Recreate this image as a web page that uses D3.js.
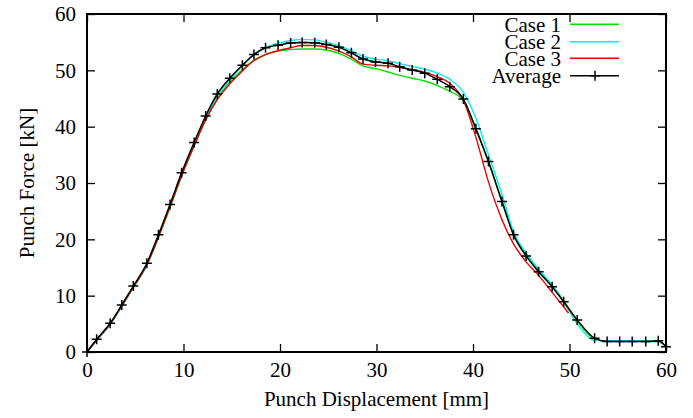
<!DOCTYPE html>
<html>
<head>
<meta charset="utf-8">
<script src="https://cdn.jsdelivr.net/npm/d3@7"></script>
<style>
html,body{margin:0;padding:0;background:#fff;}
svg{display:block;}
</style>
</head>
<body>
<svg id="chart" width="693" height="418"></svg>
<script>
// ---------- data ----------
const xTicks = [0, 10, 20, 30, 40, 50, 60];
const yTicks = [0, 10, 20, 30, 40, 50, 60];
const seriesNames = ["Case 1", "Case 2", "Case 3", "Average"];

const displacement = [0,1.0,2.4,3.6,4.8,6.2,7.4,8.6,9.8,11.1,12.3,13.5,14.8,16.1,17.3,18.5,19.8,21.1,22.3,23.6,24.8,26.1,27.4,28.6,29.9,31.2,32.4,33.7,35.0,36.3,37.6,39.0,40.3,41.6,43.0,44.2,45.5,46.8,48.2,49.4,50.8,52.6,53.9,55.2,56.5,57.9,59.2,60];

const case1 = [0,2.1,4.9,8.1,11.4,15.4,20.3,25.6,31.2,36.6,41.3,45.0,47.9,50.1,51.8,52.8,53.4,53.7,53.8,53.8,53.6,53.0,52.0,50.8,50.3,49.7,49.1,48.6,48.1,47.3,46.3,44.6,39.5,33.8,26.8,21.0,17.3,14.5,11.8,9.1,5.5,2.3,1.9,1.9,1.9,1.9,1.8,1.0];

const case2 = [0,2.0,4.9,8.1,11.5,15.5,20.5,25.9,31.4,36.9,41.6,45.4,48.3,50.8,52.8,54.0,54.8,55.3,55.5,55.4,55.0,54.4,53.5,52.5,52.0,51.7,51.2,50.7,50.2,49.5,48.4,46.1,41.5,35.0,28.0,21.3,17.6,14.7,11.9,8.9,5.0,2.1,2.0,2.0,2.0,2.0,1.9,1.0];

const case3Displacement = [0,1.0,2.4,3.6,4.8,6.2,7.4,8.6,9.8,11.1,12.3,13.5,14.8,16.1,17.3,18.5,19.8,21.1,22.3,23.6,24.8,26.1,27.4,28.6,29.9,31.2,32.4,33.7,35.0,36.3,37.6,39.0,40.3,41.6,43.0,44.2,45.5,46.8,48.2,49.4,49.9];
const case3 = [0,2.1,5.0,8.2,11.5,15.5,20.4,25.8,31.3,36.6,41.2,44.8,47.6,49.9,51.7,52.8,53.5,54.0,54.4,54.4,54.1,53.4,52.4,51.1,50.9,50.8,50.55,50.1,49.65,48.9,47.7,44.7,38.1,30.2,23.5,19.2,16.0,13.6,10.6,8.0,6.9];

const average = [0,2.25,5.1,8.35,11.7,15.75,20.8,26.2,31.8,37.2,41.9,45.8,48.6,50.9,52.8,54.0,54.45,54.85,54.95,54.9,54.6,54.1,53.1,52.0,51.5,51.25,50.65,50.05,49.5,48.4,47.1,44.9,39.65,33.8,26.7,20.8,17.05,14.25,11.6,8.9,5.7,2.45,1.85,1.85,1.85,1.85,2.0,0.95];

// ---------- layout ----------
const W = 693, H = 418;
const pL = 87, pR = 666, pT = 14, pB = 352;
const font = "'Liberation Serif','Times New Roman',Times,serif";
const fs = 21;

const svg = d3.select("#chart");
const x = d3.scaleLinear().domain([0, 60]).range([pL, pR]);
const y = d3.scaleLinear().domain([0, 60]).range([pB, pT]);

const colors = {"Case 1": "#00e000", "Case 2": "#00f0f0", "Case 3": "#f00000", "Average": "#000000"};

// ---------- series ----------
const line = d3.line().curve(d3.curveMonotoneX).x(d => x(d[0])).y(d => y(d[1]));
const plotG = svg.append("g");
function addSeries(xs, ys, col, w) {
  plotG.append("path")
    .datum(xs.map((v, i) => [v, ys[i]]))
    .attr("fill", "none").attr("stroke", col).attr("stroke-width", w)
    .attr("stroke-linejoin", "round")
    .attr("d", line);
}
addSeries(displacement, case1, colors["Case 1"], 1.4);
addSeries(displacement, case2, colors["Case 2"], 1.4);
addSeries(case3Displacement, case3, colors["Case 3"], 1.4);
addSeries(displacement, average, colors["Average"], 1.5);

const plus = (g, cx, cy, s) => {
  g.append("path")
    .attr("d", `M${cx - s},${cy}H${cx + s}M${cx},${cy - s}V${cy + s}`)
    .attr("stroke", "#000").attr("stroke-width", 1.5).attr("fill", "none");
};
displacement.forEach((v, i) => plus(plotG, x(v), y(average[i]), 5));

// ---------- axes ----------
function styleAxis(g, showText) {
  g.select(".domain").remove();
  g.selectAll(".tick line").attr("stroke", "#000").attr("stroke-width", 1.3);
  g.selectAll(".tick text").attr("font-family", font).attr("font-size", fs).attr("fill", "#000");
  if (!showText) g.selectAll(".tick text").remove();
}
svg.append("g").attr("transform", `translate(0,${pB})`)
  .call(d3.axisBottom(x).tickValues(xTicks).tickSize(-8).tickPadding(10))
  .call(g => styleAxis(g, true));
svg.append("g").attr("transform", `translate(0,${pT})`)
  .call(d3.axisTop(x).tickValues(xTicks).tickSize(-8))
  .call(g => styleAxis(g, false));
svg.append("g").attr("transform", `translate(${pL},0)`)
  .call(d3.axisLeft(y).tickValues(yTicks).tickSize(-8).tickPadding(11))
  .call(g => styleAxis(g, true));
svg.append("g").attr("transform", `translate(${pR},0)`)
  .call(d3.axisRight(y).tickValues(yTicks).tickSize(-8))
  .call(g => styleAxis(g, false));

svg.append("rect")
  .attr("x", pL).attr("y", pT).attr("width", pR - pL).attr("height", pB - pT)
  .attr("fill", "none").attr("stroke", "#000").attr("stroke-width", 2);

// ---------- titles ----------
svg.append("text")
  .attr("x", (pL + pR) / 2).attr("y", 406)
  .attr("text-anchor", "middle").attr("font-family", font).attr("font-size", fs)
  .text("Punch Displacement [mm]");
svg.append("text")
  .attr("transform", `translate(34,${(pT + pB) / 2}) rotate(-90)`)
  .attr("text-anchor", "middle").attr("font-family", font).attr("font-size", fs)
  .text("Punch Force [kN]");

// ---------- legend ----------
const legendY = [24.3, 41.7, 58.3, 75.7];
const lg = svg.append("g");
seriesNames.forEach((name, i) => {
  const cy = legendY[i];
  lg.append("text").attr("x", 561).attr("y", cy + 7.5)
    .attr("text-anchor", "end").attr("font-family", font).attr("font-size", fs)
    .text(name);
  lg.append("line").attr("x1", 570).attr("x2", 619).attr("y1", cy).attr("y2", cy)
    .attr("stroke", colors[name]).attr("stroke-width", 1.5);
  if (name === "Average") plus(lg, 595, cy, 5);
});
</script>
</body>
</html>
